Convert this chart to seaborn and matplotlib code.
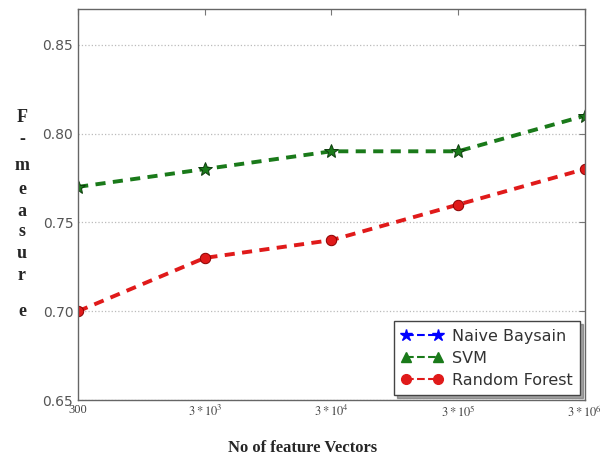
import matplotlib
matplotlib.use("Agg")
import matplotlib.pyplot as plt
from matplotlib.lines import Line2D
import seaborn as sns
import pandas as pd

feature_vectors = [300, 3000, 30000, 300000, 3000000]
tick_labels = ["300", r"$3*10^{3}$", r"$3*10^{4}$", r"$3*10^{5}$", r"$3*10^{6}$"]
svm_f = [0.77, 0.78, 0.79, 0.79, 0.81]
rf_f = [0.70, 0.73, 0.74, 0.76, 0.78]
legend_names = ["Naive Baysain", "SVM", "Random Forest"]

sns.set_style("white")
plt.rcParams["mathtext.fontset"] = "stix"

fig = plt.figure(figsize=(6.06, 4.59), dpi=100)
ax = fig.add_axes([0.129, 0.1285, 0.836, 0.8515])
ax.set_xscale("log")

green = "#1a7a1a"
red = "#e01a1a"
df_svm = pd.DataFrame({"x": feature_vectors, "y": svm_f})
df_rf = pd.DataFrame({"x": feature_vectors, "y": rf_f})
sns.lineplot(data=df_svm, x="x", y="y", ax=ax, color=green, linewidth=2.8,
             marker="*", markersize=10, markerfacecolor=green, markeredgecolor="#0d3d0d",
             markeredgewidth=0.7)
sns.lineplot(data=df_rf, x="x", y="y", ax=ax, color=red, linewidth=2.8,
             marker="o", markersize=7.5, markerfacecolor=red, markeredgecolor="#8a0000",
             markeredgewidth=0.7)
for ln in ax.get_lines():
    ln.set_dashes((2.6, 1.9))

ax.set_xlim(feature_vectors[0], feature_vectors[-1])
ax.set_ylim(0.65, 0.87)
ax.set_xticks(feature_vectors)
ax.set_xticklabels(tick_labels, fontsize=9, family="Liberation Serif", color="#444444")
ax.xaxis.set_minor_locator(matplotlib.ticker.NullLocator())
ax.set_yticks([0.65, 0.70, 0.75, 0.80, 0.85])
ax.set_yticklabels(["0.65", "0.70", "0.75", "0.80", "0.85"], fontsize=10, color="#555555")
ax.tick_params(axis="both", direction="in", top=True, right=True, length=4, width=0.8,
               color="#777777")
ax.tick_params(axis="x", pad=3)
ax.yaxis.grid(True, linestyle=":", color="#bbbbbb", linewidth=0.9)
ax.xaxis.grid(False)
for s in ax.spines.values():
    s.set_color("#666666")
    s.set_linewidth(1.0)
ax.set_xlabel("")
ax.set_ylabel("")

handles = [
    Line2D([0], [0], color="blue", linestyle="--", marker="*", markersize=9),
    Line2D([0], [0], color=green, linestyle="--", marker="^", markersize=7),
    Line2D([0], [0], color=red, linestyle="--", marker="o", markersize=7),
]
leg = ax.legend(handles, legend_names, loc="lower right", numpoints=2, handlelength=2.6,
                fontsize=11.5, frameon=True, fancybox=False, shadow=True,
                borderaxespad=0.3, labelspacing=0.45, borderpad=0.45, handletextpad=0.6)
leg.get_frame().set_edgecolor("#444444")
for t in leg.get_texts():
    t.set_color("#333333")

fig.text(0.5, 0.024, "No of feature Vectors", ha="center", va="center", fontsize=12,
         fontweight="bold", family="Liberation Serif")

letters = ["F", "-", "m", "e", "a", "s", "u", "r", "e"]
ys = [118, 139, 166, 189, 211, 232, 254, 276, 311]
for ch, y in zip(letters, ys):
    fig.text(22 / 606, 1 - y / 459, ch, ha="center", va="center", fontsize=13,
             fontweight="bold", family="Liberation Serif")

fig.savefig("out.png", dpi=100)
